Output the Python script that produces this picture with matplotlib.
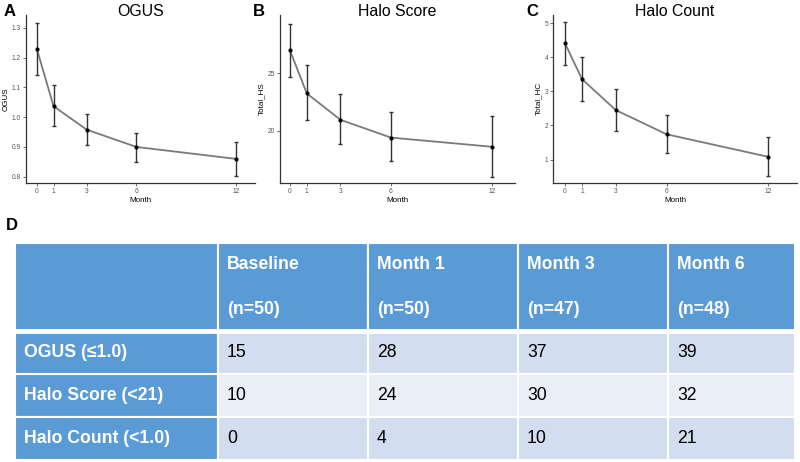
"""
Three follow-up panels (OGUS, Halo Score, Halo Count) plus a summary table
"""

import numpy as np
import matplotlib.pyplot as plt

plt.rcParams['font.family'] = ['Liberation Sans', 'DejaVu Sans']

# --- data ---
months = [0, 1, 3, 6, 12]

ogus_mean = [1.228, 1.037, 0.958, 0.900, 0.860]
ogus_low = [1.140, 0.970, 0.906, 0.849, 0.802]
ogus_high = [1.317, 1.109, 1.011, 0.946, 0.916]

hs_mean = [27.0, 23.25, 20.95, 19.4, 18.6]
hs_low = [24.7, 20.9, 18.8, 17.4, 16.0]
hs_high = [29.3, 25.7, 23.2, 21.6, 21.3]

hc_mean = [4.41, 3.36, 2.45, 1.74, 1.08]
hc_low = [3.77, 2.71, 1.84, 1.20, 0.51]
hc_high = [5.02, 4.02, 3.07, 2.30, 1.67]

col_labels = ['', 'Baseline\n(n=50)', 'Month 1\n(n=50)', 'Month 3\n(n=47)', 'Month 6\n(n=48)']
row_labels = ['OGUS (≤1.0)', 'Halo Score (<21)', 'Halo Count (<1.0)']
counts = [[15, 28, 37, 39],
          [10, 24, 30, 32],
          [0, 4, 10, 21]]

W, H = 800, 462
fig = plt.figure(figsize=(W / 100, H / 100), dpi=100)


def px_axes(left, top, right, bottom):
    return fig.add_axes([left / W, 1 - bottom / H, (right - left) / W, (bottom - top) / H])


def panel(ax, mean, low, high, ylabel, title, xlim, ylim, yticks):
    mean = np.array(mean)
    err = [mean - np.array(low), np.array(high) - mean]
    ax.plot(months, mean, color='#7a7a7a', lw=1.3, zorder=2)
    ax.errorbar(months, mean, yerr=err, fmt='none', ecolor='#333333',
                elinewidth=1.0, capsize=1.6, capthick=1.0, zorder=3)
    ax.scatter(months, mean, s=4, color='black', zorder=4)
    ax.set_xlim(*xlim)
    ax.set_ylim(*ylim)
    ax.set_xticks(months)
    ax.set_yticks(yticks)
    ax.spines[['top', 'right']].set_visible(False)
    for s in ['left', 'bottom']:
        ax.spines[s].set_color('#333333')
        ax.spines[s].set_linewidth(0.9)
    ax.tick_params(labelsize=4.8, labelcolor='#555555', color='#333333',
                   length=2, width=0.5, pad=1.5)
    ax.set_xlabel('Month', fontsize=5.8, labelpad=1.5)
    ax.set_ylabel(ylabel, fontsize=5.8, labelpad=2)
    ax.text(0.5, 1.02, title, transform=ax.transAxes, ha='center', va='center',
            fontsize=11.4)


ax_a = px_axes(26, 15, 255, 182.7)
panel(ax_a, ogus_mean, ogus_low, ogus_high, 'OGUS', 'OGUS',
      (-0.66, 13.15), (0.78, 1.343), [0.8, 0.9, 1.0, 1.1, 1.2, 1.3])
ax_a.yaxis.set_major_formatter(plt.FormatStrFormatter('%.1f'))

ax_b = px_axes(280, 15, 515, 182.7)
panel(ax_b, hs_mean, hs_low, hs_high, 'Total_HS', 'Halo Score',
      (-0.59, 13.37), (15.47, 30.08), [20, 25])

ax_c = px_axes(553, 15, 797, 182.7)
panel(ax_c, hc_mean, hc_low, hc_high, 'Total_HC', 'Halo Count',
      (-0.71, 13.7), (0.32, 5.24), [1, 2, 3, 4, 5])

for letter, x, y in [('A', 4, 12), ('B', 253, 12), ('C', 526, 12), ('D', 6, 225)]:
    fig.text(x / W, 1 - y / H, letter, fontsize=12, fontweight='bold', va='center')

# --- Panel D: table ---
blue = '#5b9bd5'
light = ['#d2deef', '#eaeff7', '#d2deef']
col_px = [203, 150, 150, 150, 127]
row_px = [88, 43, 43, 43]

tab_ax = px_axes(15, 243, 795, 460)
tab_ax.axis('off')

cell_text = [col_labels] + [[r] + [str(v) for v in vals] for r, vals in zip(row_labels, counts)]
cell_colors = [[blue] * 5] + [[blue] + [light[i]] * 4 for i in range(3)]

tab = tab_ax.table(cellText=cell_text, cellColours=cell_colors,
                   colWidths=[c / sum(col_px) for c in col_px],
                   cellLoc='left', bbox=[0, 0, 1, 1])
tab.auto_set_font_size(False)
tab.set_fontsize(12.7)

for (r, c), cell in tab.get_celld().items():
    cell.set_height(row_px[r])
    cell.set_edgecolor('white')
    cell.set_linewidth(1.5)
    cell.PAD = 9 / col_px[c]
    txt = cell.get_text()
    if r == 0 or c == 0:
        txt.set_color('white')
        txt.set_fontweight('bold')
    else:
        txt.set_color('black')
    if r == 0:
        txt.set_linespacing(3.2)

# thicker white gap under the header
tab_ax.axhline(sum(row_px[1:]) / sum(row_px), color='white', lw=3.5, zorder=5)

fig.savefig('out.png', dpi=100)
